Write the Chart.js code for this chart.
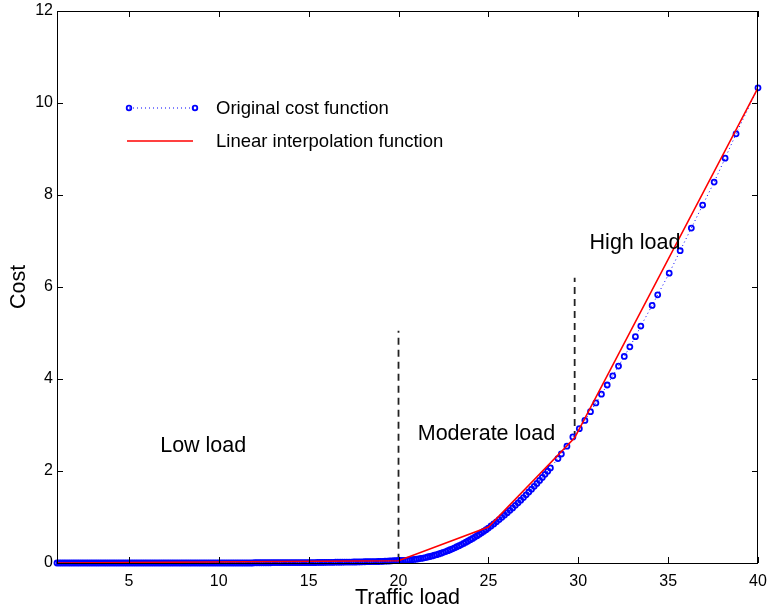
<!DOCTYPE html>
<html>
<head>
<meta charset="utf-8">
<script src="https://cdn.jsdelivr.net/npm/chart.js@4/dist/chart.umd.min.js"></script>
<style>
  body { margin: 0; background: #fff; }
  canvas { display: block; }
</style>
</head>
<body>
<canvas id="costChart" width="767" height="611"></canvas>
<script>
// traffic load values for the original (sampled) cost function
const loadValues = [
  1, 1.125, 1.25, 1.375, 1.5, 1.625, 1.75, 1.875,
  2, 2.125, 2.25, 2.375, 2.5, 2.625, 2.75, 2.875,
  3, 3.125, 3.25, 3.375, 3.5, 3.625, 3.75, 3.875,
  4, 4.125, 4.25, 4.375, 4.5, 4.625, 4.75, 4.875,
  5, 5.125, 5.25, 5.375, 5.5, 5.625, 5.75, 5.875,
  6, 6.125, 6.25, 6.375, 6.5, 6.625, 6.75, 6.875,
  7, 7.125, 7.25, 7.375, 7.5, 7.625, 7.75, 7.875,
  8, 8.125, 8.25, 8.375, 8.5, 8.625, 8.75, 8.875,
  9, 9.125, 9.25, 9.375, 9.5, 9.625, 9.75, 9.875,
  10, 10.125, 10.25, 10.375, 10.5, 10.625, 10.75, 10.875,
  11, 11.125, 11.25, 11.375, 11.5, 11.625, 11.75, 11.875,
  12, 12.125, 12.25, 12.375, 12.5, 12.625, 12.75, 12.875,
  13, 13.125, 13.25, 13.375, 13.5, 13.625, 13.75, 13.875,
  14, 14.125, 14.25, 14.375, 14.5, 14.625, 14.75, 14.875,
  15, 15.125, 15.25, 15.375, 15.5, 15.625, 15.75, 15.875,
  16, 16.125, 16.25, 16.375, 16.5, 16.625, 16.75, 16.875,
  17, 17.125, 17.25, 17.375, 17.5, 17.625, 17.75, 17.875,
  18, 18.125, 18.25, 18.375, 18.5, 18.625, 18.75, 18.875,
  19, 19.125, 19.25, 19.375, 19.5, 19.625, 19.75, 19.875,
  20, 20.125, 20.25, 20.375, 20.5, 20.625, 20.75, 20.875,
  21, 21.125, 21.25, 21.375, 21.5, 21.625, 21.75, 21.875,
  22, 22.125, 22.25, 22.375, 22.5, 22.625, 22.75, 22.875,
  23, 23.125, 23.25, 23.375, 23.5, 23.625, 23.75, 23.875,
  24, 24.125, 24.25, 24.375, 24.5, 24.625, 24.75, 24.875,
  25, 25.15, 25.3, 25.45, 25.6, 25.75, 25.9, 26.05,
  26.2, 26.35, 26.5, 26.65, 26.8, 26.95, 27.1, 27.25,
  27.4, 27.55, 27.7, 27.85, 28, 28.15, 28.3, 28.45,
  28.87, 29.06, 29.37, 29.7,
  30.06, 30.37, 30.68, 30.98, 31.29, 31.61, 31.92, 32.24,
  32.56, 32.87, 33.18, 33.48, 34.11, 34.42, 35.06, 35.67,
  36.29, 36.92, 37.56, 38.17, 38.78, 40
];
const costValues = [
  0, 0, 0, 0, 0, 0, 0, 0,
  0, 0, 0, 0, 0, 0, 0, 0,
  0, 0, 0, 0, 0, 0, 0, 0,
  0, 0, 0, 0, 0, 0, 0, 0,
  0, 0, 0, 0, 0, 0, 0, 0,
  0, 0, 0, 0, 0, 0, 0, 0,
  0, 0, 0, 0, 0, 0, 0, 0,
  0, 0, 0, 0, 0, 0, 0, 0,
  0, 0, 0, 0, 0, 0, 0, 0,
  0, 0, 0, 0, 0, 0, 0, 0,
  0, 0, 0, 0, 0, 0, 0, 0,
  0.005, 0.005, 0.005, 0.005, 0.005, 0.005, 0.005, 0.005,
  0.01, 0.01, 0.01, 0.01, 0.01, 0.01, 0.01, 0.01,
  0.01, 0.01, 0.01, 0.01, 0.01, 0.01, 0.01, 0.01,
  0.01, 0.01, 0.01, 0.01, 0.012, 0.012, 0.012, 0.012,
  0.015, 0.015, 0.015, 0.015, 0.017, 0.017, 0.017, 0.017,
  0.02, 0.02, 0.02, 0.02, 0.022, 0.022, 0.024, 0.024,
  0.026, 0.027, 0.028, 0.029, 0.03, 0.031, 0.032, 0.033,
  0.035, 0.037, 0.039, 0.041, 0.044, 0.047, 0.05, 0.053,
  0.055, 0.055, 0.057, 0.059, 0.062, 0.066, 0.071, 0.077,
  0.083, 0.091, 0.099, 0.108, 0.118, 0.13, 0.141, 0.154,
  0.168, 0.182, 0.198, 0.214, 0.231, 0.249, 0.268, 0.288,
  0.309, 0.33, 0.353, 0.376, 0.4, 0.426, 0.452, 0.478,
  0.506, 0.535, 0.564, 0.595, 0.626, 0.658, 0.691, 0.725,
  0.76, 0.804, 0.849, 0.896, 0.943, 0.992, 1.042, 1.093,
  1.145, 1.198, 1.253, 1.308, 1.365, 1.423, 1.482, 1.543,
  1.604, 1.667, 1.73, 1.795, 1.861, 1.928, 1.997, 2.066,
  2.27, 2.37, 2.54, 2.74,
  2.92, 3.1, 3.29, 3.48, 3.67, 3.87, 4.07, 4.28,
  4.49, 4.7, 4.92, 5.15, 5.6, 5.83, 6.3, 6.79,
  7.28, 7.78, 8.28, 8.8, 9.33, 10.33
];

// breakpoints of the linear interpolation
const interpLoad = [1, 20, 25, 29.8, 40];
const interpCost = [0, 0.05, 0.78, 2.72, 10.33];

// region boundaries (dashed lines)
const boundLoad = [20, 29.8];
const boundLow = [0.05, 2.72];
const boundHigh = [5.05, 6.2];

const xTicks = [5, 10, 15, 20, 25, 30, 35, 40];
const yTicks = [0, 2, 4, 6, 8, 10, 12];

const seriesNames = ['Original cost function', 'Linear interpolation function'];
const regionNames = ['Low load', 'Moderate load', 'High load'];
const regionAt = [[6.74, 2.55], [21.07, 2.8], [30.63, 6.96]];

const FONT = "'Liberation Sans', Arial, Helvetica, sans-serif";

function pairs(xs, ys) {
  return xs.map((x, i) => ({ x: x, y: ys[i] }));
}

const datasets = [
  {
    label: seriesNames[1],
    data: pairs(interpLoad, interpCost),
    borderColor: '#ff0000',
    borderWidth: 1.6,
    pointRadius: 0,
    tension: 0
  },
  {
    label: seriesNames[0],
    data: pairs(loadValues, costValues),
    borderColor: '#0000ff',
    borderWidth: 1,
    borderDash: [1, 3],
    pointRadius: 2.5,
    pointBorderWidth: 1.8,
    pointBorderColor: '#0000ff',
    pointBackgroundColor: 'rgba(255,255,255,0)',
    tension: 0,
    clip: 6
  }
];
boundLoad.forEach((x, i) => {
  datasets.push({
    label: 'bound' + i,
    data: [{ x: x, y: boundLow[i] }, { x: x, y: boundHigh[i] }],
    borderColor: '#222',
    borderWidth: 1.8,
    borderDash: [7, 5],
    pointRadius: 0
  });
});

const matlabFrame = {
  id: 'matlabFrame',
  afterDraw(chart) {
    const ctx = chart.ctx;
    const a = chart.chartArea;
    const xs = chart.scales.x, ys = chart.scales.y;
    ctx.save();
    ctx.strokeStyle = '#000';
    ctx.lineWidth = 1;
    ctx.strokeRect(a.left + 0.5, a.top + 0.5, a.right - a.left - 1, a.bottom - a.top);
    ctx.beginPath();
    xTicks.forEach(v => {
      const px = Math.round(xs.getPixelForValue(v)) + 0.5;
      ctx.moveTo(px, a.bottom); ctx.lineTo(px, a.bottom - 6);
      ctx.moveTo(px, a.top); ctx.lineTo(px, a.top + 6);
    });
    yTicks.forEach(v => {
      const py = Math.round(ys.getPixelForValue(v)) + 0.5;
      ctx.moveTo(a.left, py); ctx.lineTo(a.left + 6, py);
      ctx.moveTo(a.right, py); ctx.lineTo(a.right - 6, py);
    });
    ctx.stroke();

    // region labels
    ctx.fillStyle = '#000';
    ctx.font = '21.5px ' + FONT;
    ctx.textBaseline = 'middle';
    ctx.textAlign = 'left';
    regionNames.forEach((t, i) => {
      ctx.fillText(t, xs.getPixelForValue(regionAt[i][0]), ys.getPixelForValue(regionAt[i][1]));
    });

    // legend
    ctx.font = '18.5px ' + FONT;
    ctx.fillText(seriesNames[0], 216, 109);
    ctx.fillText(seriesNames[1], 216, 142);
    ctx.strokeStyle = '#0000ff';
    ctx.lineWidth = 1;
    ctx.setLineDash([1, 3]);
    ctx.beginPath();
    ctx.moveTo(129, 108); ctx.lineTo(195, 108);
    ctx.stroke();
    ctx.setLineDash([]);
    ctx.lineWidth = 1.8;
    [129, 195].forEach(px => {
      ctx.beginPath();
      ctx.arc(px, 108, 2.3, 0, Math.PI * 2);
      ctx.stroke();
    });
    ctx.strokeStyle = '#ff0000';
    ctx.lineWidth = 1.6;
    ctx.beginPath();
    ctx.moveTo(127, 141); ctx.lineTo(193, 141);
    ctx.stroke();
    ctx.restore();
  }
};

const ctx = document.getElementById('costChart').getContext('2d');
new Chart(ctx, {
  type: 'line',
  data: { datasets: datasets },
  options: {
    responsive: false,
    animation: false,
    layout: { padding: { top: 11, right: 9, left: 0, bottom: 0 } },
    plugins: { legend: { display: false }, tooltip: { enabled: false } },
    scales: {
      x: {
        type: 'linear',
        min: 1,
        max: 40,
        grid: { display: false, drawTicks: false },
        border: { display: false },
        afterBuildTicks: s => { s.ticks = xTicks.map(v => ({ value: v })); },
        afterFit: s => { s.height = 48; s.paddingLeft = 0; s.paddingRight = 0; },
        ticks: { color: '#000', padding: 9, maxRotation: 0, font: { family: FONT, size: 16 } },
        title: {
          display: true, text: 'Traffic load', color: '#000',
          font: { family: FONT, size: 21.5 }, padding: { top: 0, bottom: 0 }
        }
      },
      y: {
        min: 0,
        max: 12,
        grid: { display: false, drawTicks: false },
        border: { display: false },
        afterBuildTicks: s => { s.ticks = yTicks.map(v => ({ value: v })); },
        afterFit: s => { s.width = 57; s.paddingTop = 0; s.paddingBottom = 0; },
        ticks: { color: '#000', padding: 4, font: { family: FONT, size: 16 } },
        title: {
          display: true, text: 'Cost', color: '#000',
          font: { family: FONT, size: 21.5 }, padding: { top: 6, bottom: 0 }
        }
      }
    }
  },
  plugins: [matlabFrame]
});
</script>
</body>
</html>
